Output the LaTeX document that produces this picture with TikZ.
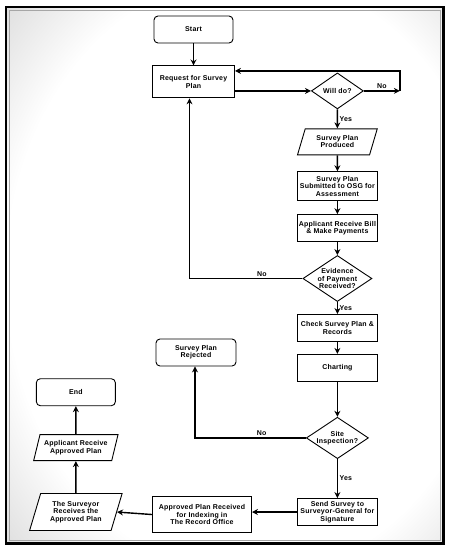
\documentclass[tikz,border=0pt]{standalone}
\usepackage{fontspec}
\setmainfont{Liberation Sans}[LetterSpace=3]
\usetikzlibrary{positioning,arrows.meta,shapes.geometric}
\newcommand\flowfont{\fontsize{7}{7.3}\selectfont\bfseries}
\pgfdeclareradialshading{vignette}{\pgfpoint{5bp}{0bp}}{color(0bp)=(white); color(28bp)=(white); color(50bp)=(black!30); color(71bp)=(black!60)}

\begin{document}
\begin{tikzpicture}[
        x=1pt, y=1pt,
        node distance=14pt and 40pt,
        terminal/.style={rectangle, rounded corners=4pt, draw, fill=white, line width=0.9pt,
                         minimum width=79pt, minimum height=27pt, align=center, font=\flowfont},
        process/.style={rectangle, draw, fill=white, line width=0.9pt, inner xsep=1pt, inner ysep=2pt,
                        minimum width=80pt, minimum height=27pt, align=center, font=\flowfont},
        io/.style={trapezium, trapezium left angle=70, trapezium right angle=110,
                   trapezium stretches=true, draw, fill=white, line width=0.9pt, inner sep=1pt,
                   minimum height=26pt, align=center, font=\flowfont},
        decision/.style={diamond, aspect=1.5, draw, fill=white, line width=0.9pt, inner sep=0pt,
                         align=center, font=\flowfont},
        arrow/.style={-{Stealth[length=6pt,width=6pt,inset=2pt]}, line width=1.4pt},
        lbl/.style={font=\flowfont, inner sep=1.5pt}
    ]
        % frame
        \useasboundingbox (0,0) rectangle (450,-550);
        \shade[shading=vignette] (6,-7) rectangle (443.5,-543.5);
        \draw[line width=2.5pt] (6,-7) rectangle (443.5,-543.5);
        \draw[gray!70, line width=0.6pt] (9,-10) rectangle (440.5,-540.5);

        % main flow (downwards)
        \node[terminal] (start) at (193.5,-29.5) {Start};
        \node[process, below=22pt of start, minimum width=82pt, minimum height=32pt] (request) {Request for Survey\\Plan};
        \node[decision, right=76pt of request, yshift=-9pt, minimum width=52pt, minimum height=36pt] (willdo) {Will do?};
        \node[io, below=19pt of willdo, minimum width=80pt] (produced) {Survey Plan\\Produced};
        \node[process, below=16pt of produced, minimum height=29pt] (osg) {Survey Plan\\Submitted to OSG for\\Assessment};
        \node[process, below=13pt of osg] (bill) {Applicant Receive Bill\\\& Make Payments};
        \node[decision, below=13pt of bill] (evidence) {Evidence\\of Payment\\Received?};
        \node[process, below=12pt of evidence] (check) {Check Survey Plan \&\\Records};
        \node[process, below=12pt of check] (charting) {Charting};
        \node[decision, below=35pt of charting] (site) {Site\\Inspection?};
        \node[terminal, minimum width=80pt] (rejected) at (196,-352.5) {Survey Plan\\Rejected};

        % bottom row (leftwards) and left column (upwards)
        \node[process, below=39pt of site] (send) {Send Survey to\\Surveyor-General for\\Signature};
        \node[process, left=45pt of send, yshift=-2.5pt, minimum width=99pt, minimum height=36pt] (approved) {Approved Plan Received\\for Indexing in\\The Record Office};
        \node[io, left=35pt of approved, yshift=2.5pt, minimum width=93pt, minimum height=37pt] (surveyor) {The Surveyor\\Receives the\\Approved Plan};
        \node[io, above=32pt of surveyor, minimum width=85pt] (applicant) {Applicant Receive\\Approved Plan};
        \node[terminal, above=28pt of applicant] (finish) {End};

        % arrows
        \coordinate (nocorner) at ([xshift=36pt]willdo.east);
        \draw[arrow] (start) -- (request);
        \draw[arrow] (willdo.west -| request.east) -- (willdo.west);
        \draw[arrow] (willdo.east) -- node[lbl, above] {No} (nocorner);
        \draw[arrow] (nocorner) |- ([yshift=11pt]request.east);
        \draw[arrow] (willdo) -- node[lbl, right] {Yes} (produced);
        \draw[arrow] (produced) -- (osg);
        \draw[arrow] (osg) -- (bill);
        \draw[arrow] (bill) -- (evidence);
        \draw[arrow] (evidence.west) -| node[lbl, above, pos=0.18] {No} ([xshift=-4pt]request.south);
        \draw[arrow] (evidence) -- node[lbl, right] {Yes} (check);
        \draw[arrow] (check) -- (charting);
        \draw[arrow] (charting) -- (site);
        \draw[arrow] (site.west) -| node[lbl, above, pos=0.2] {No} ([xshift=-1pt]rejected.south);
        \draw[arrow] (site) -- node[lbl, right] {Yes} (send);
        \draw[arrow] (send.west) -- (send.west -| approved.east);
        \draw[arrow] (approved.west) -- (surveyor.east);
        \draw[arrow] (surveyor) -- (applicant);
        \draw[arrow] (applicant) -- (finish);
    \end{tikzpicture}
\end{document}
